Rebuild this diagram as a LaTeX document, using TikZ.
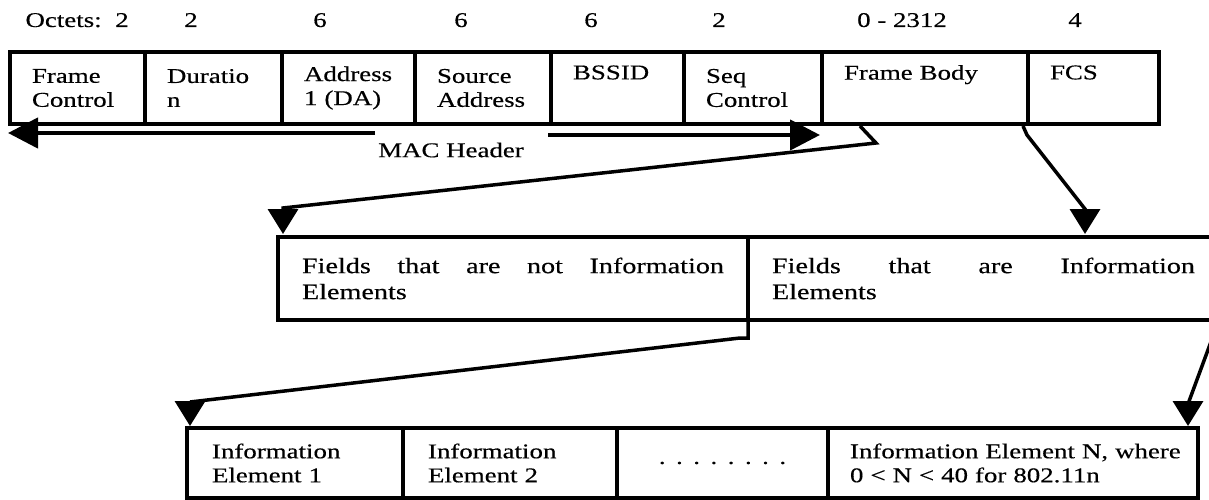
\documentclass[tikz,border=0pt]{standalone}
\usepackage{fontspec}
\setmainfont{Liberation Serif}[FakeStretch=1.28,FakeBold=0.4]
\usetikzlibrary{positioning,calc,arrows.meta}

\begin{document}
\begin{tikzpicture}[x=1pt,y=-1pt]
   \tikzstyle{every node}=[font=\fontsize{21}{24}\selectfont]
   \tikzstyle{field}=[draw, line width=4.5pt, outer sep=0pt, inner xsep=22pt, inner ysep=2pt, minimum height=72pt, align=left]
   \tikzstyle{half}=[field, inner xsep=24pt, minimum height=83pt, align=justify, font=\fontsize{22}{26}\selectfont]
   \tikzstyle{elem}=[field, inner xsep=25pt, minimum height=70pt]
   \tikzstyle{conn}=[line width=3.5pt, -{Triangle[length=25pt,width=30pt]}]
   \tikzstyle{macarrow}=[line width=4.5pt, -{Triangle[length=30pt,width=30pt]}]
   \useasboundingbox (0,0) rectangle (1209,500);

% MAC frame
\node[field, text width=91pt, anchor=north west] (fc) at (10,52) {Frame\\Control};
\node[field, text width=93pt, right=0pt of fc] (dur) {Duratio\\n};
\node[field, text width=89pt, right=0pt of dur] (addr) {Address\\1 (DA)};
\node[field, text width=92pt, right=0pt of addr] (sa) {Source\\Address};
\node[field, text width=89pt, right=0pt of sa] (bssid) {BSSID\\\strut};
\node[field, text width=94pt, right=0pt of bssid] (seq) {Seq\\Control};
\node[field, text width=162pt, right=0pt of seq] (body) {Frame Body\\\strut};
\node[field, text width=87pt, right=0pt of body, line width=3.5pt] (fcs) {FCS\\\strut};

% octet counts
\node[anchor=base west] (octets) at (22,27) {Octets:};
\foreach \x/\n [count=\i] in {122/2, 191/2, 320/6, 461/6, 591/6, 719/2, 902/0 - 2312, 1075/4}
   \node[anchor=base] (oct\i) at (\x,27) {\n};

% MAC header span
\coordinate (macl) at ($(addr.south west)+(93,9)$);
\draw[macarrow] (macl) -- ($(fc.south west)+(-2,9)$);
\draw[macarrow] ($(bssid.south west)+(-3,11)$) -- ($(body.south west)+(-2,11)$);
\node (machdr) at (451,150) {MAC Header};

% frame body
\node[half, text width=422pt, anchor=north west] (notie) at (278,237) {Fields that are not Information\linebreak Elements};
\node[half, text width=423pt, right=0pt of notie] (ie) {Fields that are Information\linebreak Elements};

% information elements
\node[elem, text width=166pt, anchor=north west] (ie1) at (187,428) {Information\\Element 1};
\node[elem, text width=164pt, right=0pt of ie1] (ie2) {Information\\Element 2};
\node[elem, text width=161pt, align=center, right=0pt of ie2] (dots) {. . . . . . . .};
\node[elem, text width=326pt, inner xsep=22pt, right=0pt of dots] (ien) {\mbox{Information Element N, where}\\\mbox{0 < N < 40 for 802.11n}};

\draw[conn] ($(body.south west)+(38,2)$) -- ++(16,17) -- ($(notie.north west)+(5,-29)$) -- ($(notie.north west)+(5,-3)$);
\draw[conn] ($(fcs.south west)+(-5,2)$) -- ++(4,9) -- ($(ie.north west)+(337,-28)$) -- ($(ie.north west)+(337,-3)$);
\draw[conn] (notie.south east) -- ++(0,18) -- ++(-8,0) -- ($(ie1.north west)+(3,-26)$) -- ($(ie1.north west)+(3,-2)$);
\draw[conn] (ie.south east) -- ($(ien.north east)+(-10,-24)$) -- ($(ien.north east)+(-10,-2)$);

\end{tikzpicture}
\end{document}
